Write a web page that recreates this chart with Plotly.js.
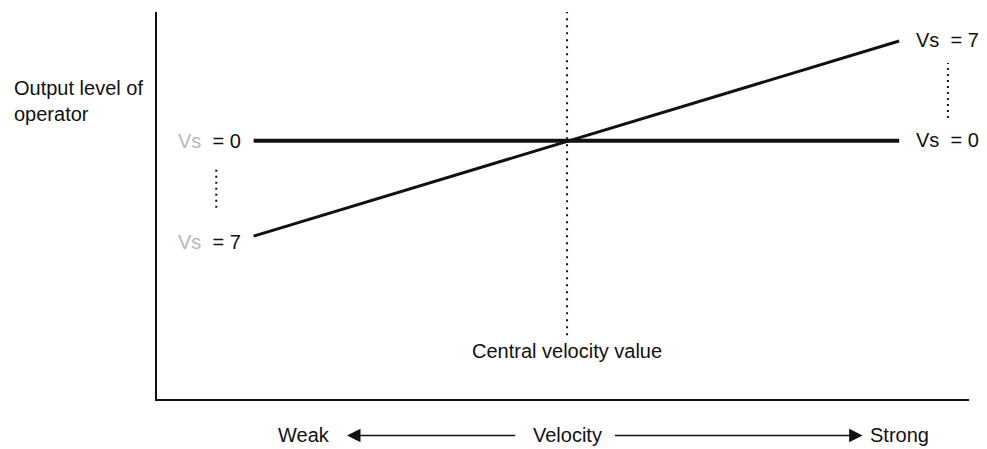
<!DOCTYPE html>
<html>
<head>
<meta charset="utf-8">
<script src="https://cdn.plot.ly/plotly-3.0.1.min.js"></script>
<style>html,body{margin:0;padding:0;background:#fff;}#chart{width:987px;height:449px;}</style>
</head>
<body>
<div id="chart"></div>
<script>
// Velocity positions (arbitrary 0-100 scale along the velocity axis)
const velocityX = [11.9, 91.4];          // start / end of the response lines
const centralVelocity = 50.5;            // central velocity value
// Output levels (arbitrary 0-100 scale)
const levelVs0 = [66.7, 66.7];           // Vs = 0 : flat
const levelVs7 = [42.1, 92.5];           // Vs = 7 : rising
const centralLineY = [16.5, 100];        // vertical dotted guide extent
const leftRangeX = [7.3, 7.3];
const leftRangeY = [49.4, 59.9];
const rightRangeX = [97.4, 97.4];
const rightRangeY = [72.6, 86.8];
const labels = {
  yTitle: 'Output level of<br>operator',
  central: 'Central velocity value',
  weak: 'Weak', velocity: 'Velocity', strong: 'Strong'
};

const FONT = '"Liberation Sans", Arial, Helvetica, sans-serif';
const INK = '#111111';
const SP = '&nbsp;';

const traces = [
  {x: velocityX, y: levelVs0, mode: 'lines', line: {color: INK, width: 4}, hoverinfo: 'skip'},
  {x: velocityX, y: levelVs7, mode: 'lines', line: {color: INK, width: 3}, hoverinfo: 'skip'},
  {x: [centralVelocity, centralVelocity], y: centralLineY, mode: 'lines', cliponaxis: false,
   line: {color: INK, width: 2, dash: '2px,5px'}, hoverinfo: 'skip'},
  {x: leftRangeX, y: leftRangeY, mode: 'lines', line: {color: INK, width: 2, dash: '2px,4px'}, hoverinfo: 'skip'},
  {x: rightRangeX, y: rightRangeY, mode: 'lines', line: {color: INK, width: 2, dash: '2px,4px'}, hoverinfo: 'skip'}
];

// axes span 0..100, so paper coordinate = value / 100
const P = v => v / 100;
const arrowY = -9.4;
const annFont = {family: FONT, size: 20, color: INK};
function lbl(x, y, text, xanchor, extra) {
  return Object.assign({x: P(x), y: P(y), xref: 'paper', yref: 'paper', xanchor: xanchor,
    yanchor: 'middle', text: text, showarrow: false, font: annFont}, extra || {});
}
const eq = v => SP + ' = ' + v;
const annotations = [
  lbl(-17.86, 77.1, labels.yTitle, 'left', {align: 'left'}),
  lbl(10.6, levelVs0[0], '<span style="color:#b8b8b8">Vs</span>' + eq('0'), 'right'),
  lbl(10.6, 40.6, '<span style="color:#b8b8b8">Vs</span>' + eq('7'), 'right'),
  lbl(93.2, 92.8, 'Vs' + eq('7'), 'left'),
  lbl(93.2, 66.9, 'Vs' + eq('0'), 'left'),
  lbl(centralVelocity, 12.4, labels.central, 'center'),
  lbl(18.1, arrowY, labels.weak, 'center'),
  lbl(centralVelocity, arrowY, labels.velocity, 'center'),
  lbl(91.4, arrowY, labels.strong, 'center'),
  {x: P(23.4), y: P(arrowY), xref: 'paper', yref: 'paper', ax: P(44.3), ay: P(arrowY), axref: 'paper', ayref: 'paper',
   text: '', showarrow: true, arrowhead: 2, arrowsize: 1.8, arrowwidth: 1.5, arrowcolor: INK},
  {x: P(86.9), y: P(arrowY), xref: 'paper', yref: 'paper', ax: P(56.2), ay: P(arrowY), axref: 'paper', ayref: 'paper',
   text: '', showarrow: true, arrowhead: 2, arrowsize: 1.8, arrowwidth: 1.5, arrowcolor: INK}
];

const axisBase = {showline: true, linecolor: INK, linewidth: 2, showgrid: false, zeroline: false,
  showticklabels: false, ticks: '', fixedrange: true};

const layout = {
  width: 987, height: 449,
  margin: {l: 157, r: 18, t: 12, b: 50},
  paper_bgcolor: '#ffffff', plot_bgcolor: '#ffffff',
  showlegend: false,
  font: {family: FONT, size: 20, color: INK},
  xaxis: Object.assign({range: [0, 100]}, axisBase),
  yaxis: Object.assign({range: [0, 100]}, axisBase),
  annotations: annotations
};

Plotly.newPlot('chart', traces, layout, {displayModeBar: false, staticPlot: true});
</script>
</body>
</html>
